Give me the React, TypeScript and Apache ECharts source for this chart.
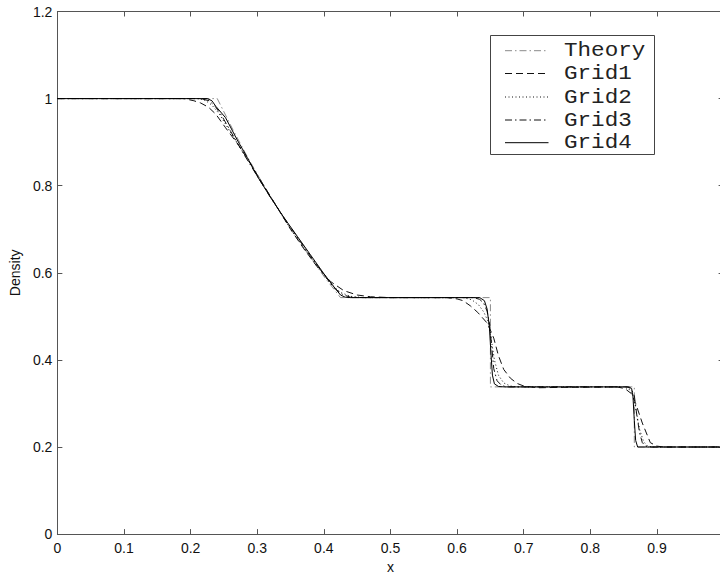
import React, { useEffect, useRef } from "react";
import * as echarts from "echarts";

type Pt = [number, number];

const seriesNames = ["Theory", "Grid1", "Grid2", "Grid3", "Grid4"];

const theory: Pt[] = [
  [0, 1], [0.24, 1], [0.263, 0.93], [0.286, 0.864], [0.31, 0.8], [0.333, 0.743],
  [0.356, 0.688], [0.379, 0.637], [0.402, 0.588], [0.425, 0.543], [0.65, 0.543],
  [0.65, 0.338], [0.866, 0.338], [0.866, 0.2], [1, 0.2],
];

const grid1: Pt[] = [
  [0, 1], [0.19, 1], [0.205, 0.995], [0.215, 0.99], [0.227, 0.98], [0.238, 0.964],
  [0.2525, 0.933], [0.2725, 0.892], [0.29, 0.85], [0.31, 0.8], [0.33, 0.75],
  [0.35, 0.7], [0.37, 0.655], [0.39, 0.614], [0.41, 0.58], [0.43, 0.559],
  [0.45, 0.549], [0.47, 0.545], [0.5, 0.543], [0.585, 0.543], [0.6, 0.54],
  [0.609, 0.536], [0.62, 0.524], [0.631, 0.509], [0.646, 0.483], [0.655, 0.45],
  [0.662, 0.41], [0.67, 0.378], [0.68, 0.358], [0.69, 0.346], [0.7, 0.34],
  [0.72, 0.336], [0.76, 0.337], [0.84, 0.338], [0.852, 0.334], [0.862, 0.322],
  [0.868, 0.3], [0.878, 0.255], [0.89, 0.21], [0.9, 0.202], [0.91, 0.2], [1, 0.2],
];

const grid2: Pt[] = [
  [0, 1], [0.21, 1], [0.222, 0.996], [0.232, 0.985], [0.243, 0.965], [0.255, 0.935],
  [0.27, 0.898], [0.29, 0.85], [0.31, 0.8], [0.33, 0.75], [0.35, 0.7], [0.37, 0.658],
  [0.39, 0.615], [0.41, 0.575], [0.425, 0.555], [0.44, 0.546], [0.46, 0.543],
  [0.61, 0.543], [0.622, 0.538], [0.632, 0.527], [0.64, 0.51], [0.646, 0.49],
  [0.651, 0.45], [0.656, 0.4], [0.662, 0.365], [0.67, 0.347], [0.68, 0.34],
  [0.69, 0.338], [0.85, 0.338], [0.858, 0.333], [0.864, 0.318], [0.869, 0.28],
  [0.874, 0.24], [0.88, 0.212], [0.886, 0.202], [0.895, 0.2], [1, 0.2],
];

const grid3: Pt[] = [
  [0, 1], [0.215, 1], [0.228, 0.995], [0.237, 0.982], [0.247, 0.96], [0.26, 0.925],
  [0.28, 0.872], [0.3, 0.822], [0.32, 0.773], [0.34, 0.727], [0.36, 0.682],
  [0.38, 0.638], [0.4, 0.596], [0.415, 0.566], [0.428, 0.55], [0.44, 0.544],
  [0.46, 0.543], [0.625, 0.543], [0.634, 0.539], [0.64, 0.53], [0.645, 0.512],
  [0.649, 0.48], [0.652, 0.43], [0.655, 0.38], [0.66, 0.352], [0.667, 0.341],
  [0.675, 0.338], [0.855, 0.338], [0.861, 0.334], [0.866, 0.318], [0.87, 0.27],
  [0.874, 0.232], [0.878, 0.21], [0.883, 0.202], [0.89, 0.2], [1, 0.2],
];

const grid4: Pt[] = [
  [0, 1], [0.225, 1], [0.232, 0.995], [0.238, 0.982], [0.2525, 0.956], [0.27, 0.905],
  [0.285, 0.865], [0.3, 0.822], [0.32, 0.773], [0.34, 0.727], [0.36, 0.684],
  [0.38, 0.641], [0.4, 0.598], [0.415, 0.568], [0.425, 0.549], [0.432, 0.544],
  [0.44, 0.543], [0.634, 0.543], [0.641, 0.536], [0.645, 0.517], [0.6485, 0.475],
  [0.651, 0.41], [0.653, 0.365], [0.656, 0.345], [0.662, 0.339], [0.67, 0.338],
  [0.858, 0.338], [0.862, 0.334], [0.864, 0.315], [0.866, 0.26], [0.868, 0.215],
  [0.871, 0.2], [1, 0.2],
];

const allData = [theory, grid1, grid2, grid3, grid4];
const lineColors = ["#8a8a8a", "#111", "#111", "#111", "#000"];
const lineTypes: any[] = [[7, 3, 1.5, 3], [7, 4], [1, 2.5], [7, 3, 1.5, 3], "solid"];

export default function App() {
  const ref = useRef<HTMLDivElement>(null);
  useEffect(() => {
    if (!ref.current) return;
    const chart = echarts.init(ref.current, null, { renderer: "svg" });
    const axisColor = "#555";
    const font = "'Liberation Sans', Arial, sans-serif";
    const mono = "'Liberation Mono', 'Courier New', monospace";

    const legendX = 490.5, legendY = 35.5, legendW = 164, legendH = 119;
    const rowY = [50.7, 73.5, 97, 120, 142.7];
    const legendItems: any[] = [
      {
        type: "rect",
        shape: { x: legendX, y: legendY, width: legendW, height: legendH },
        style: { fill: "#fff", stroke: "#444", lineWidth: 1 },
      },
    ];
    seriesNames.forEach((nm, i) => {
      legendItems.push({
        type: "line",
        shape: { x1: 505, y1: rowY[i], x2: 548.5, y2: rowY[i] },
        style: {
          stroke: lineColors[i],
          lineWidth: 1,
          lineDash: lineTypes[i] === "solid" ? null : lineTypes[i],
        },
      });
      legendItems.push({
        type: "text",
        x: 564,
        y: rowY[i],
        scaleX: 1.13,
        style: {
          text: nm,
          font: `20px ${mono}`,
          fill: "#222",
          textAlign: "left",
          textVerticalAlign: "middle",
        },
      });
    });

    const baseX = {
      type: "value",
      min: 0,
      max: 1,
      interval: 0.1,
      splitLine: { show: false },
      axisLine: { show: true, onZero: false, lineStyle: { color: axisColor, width: 1 } },
      axisTick: { show: true, inside: true, length: 5, lineStyle: { color: axisColor } },
    };
    const baseY = {
      type: "value",
      min: 0,
      max: 1.2,
      interval: 0.2,
      splitLine: { show: false },
      axisLine: { show: true, onZero: false, lineStyle: { color: axisColor, width: 1 } },
      axisTick: { show: true, inside: true, length: 5, lineStyle: { color: axisColor } },
    };

    chart.setOption({
      animation: false,
      backgroundColor: "#fff",
      grid: { left: 54.3, right: 4.4, top: 11.5, bottom: 40 },
      xAxis: [
        {
          ...baseX,
          position: "bottom",
          name: "x",
          nameLocation: "middle",
          nameGap: 17,
          nameTextStyle: { fontFamily: font, fontSize: 14, color: "#111" },
          axisLabel: {
            show: true,
            showMaxLabel: false,
            margin: 7,
            fontFamily: font,
            fontSize: 14,
            color: "#111",
          },
        },
        { ...baseX, position: "top", axisLabel: { show: false } },
      ],
      yAxis: [
        {
          ...baseY,
          position: "left",
          name: "Density",
          nameLocation: "middle",
          nameGap: 30,
          nameTextStyle: { fontFamily: font, fontSize: 14, color: "#111" },
          axisLabel: { show: true, margin: 5, fontFamily: font, fontSize: 14, color: "#111" },
        },
        { ...baseY, position: "right", axisLabel: { show: false } },
      ],
      series: allData.map((d, i) => ({
        name: seriesNames[i],
        type: "line",
        data: d,
        xAxisIndex: 0,
        yAxisIndex: 0,
        showSymbol: false,
        symbol: "none",
        z: 2 + i,
        lineStyle: { color: lineColors[i], width: 1, type: lineTypes[i] },
        emphasis: { disabled: true },
      })),
      graphic: legendItems,
    });
    return () => chart.dispose();
  }, []);

  return (
    <div style={{ position: "fixed", left: 0, top: 0, width: 720, height: 579, overflow: "hidden", background: "#fff" }}>
      <div ref={ref} style={{ width: 728, height: 579 }} />
    </div>
  );
}
